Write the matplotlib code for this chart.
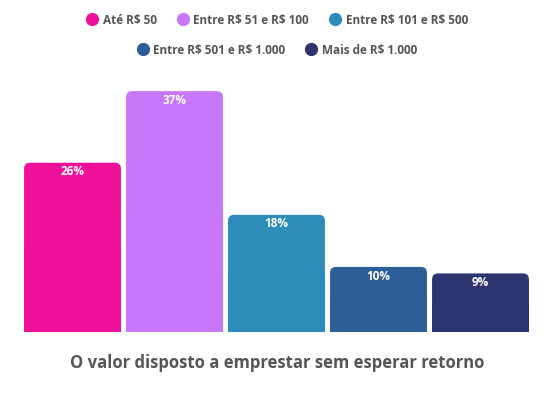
import matplotlib.pyplot as plt
from matplotlib.patches import FancyBboxPatch, Rectangle
from matplotlib.lines import Line2D

plt.rcParams['font.family'] = ['Open Sans', 'DejaVu Sans']
plt.rcParams['text.parse_math'] = False

# data
categories = ['Até R$ 50', 'Entre R$ 51 e R$ 100', 'Entre R$ 101 e R$ 500',
              'Entre R$ 501 e R$ 1.000', 'Mais de R$ 1.000']
values = [26, 37, 18, 10, 9]
colors = ['#EF1199', '#C777F8', '#2D8CBA', '#2D5E98', '#2E346F']
title = 'O valor disposto a emprestar sem esperar retorno'

fig = plt.figure(figsize=(5.54, 3.96), dpi=100)
ax = fig.add_axes([21.5 / 554, 1 - 332 / 396, 510 / 554, 260.4 / 396])
ax.set_xlim(-0.5, 4.5)
ax.set_ylim(0, 40)
ax.axis('off')

bars = ax.bar(range(len(values)), values, width=0.95, color=colors)

# rounded top corners: swap each bar for a rounded box + square base
px_x = 510 / 5.0      # pixels per x unit
px_y = 260.4 / 40.0   # pixels per y unit
r = 6 / px_x
aspect = px_x / px_y
for b, c in zip(bars, colors):
    x0, w, h = b.get_x(), b.get_width(), b.get_height()
    b.set_visible(False)
    ax.add_patch(FancyBboxPatch((x0 + r, r * aspect), w - 2 * r, h - 2 * r * aspect,
                                boxstyle=f'round,pad={r}', mutation_aspect=aspect,
                                fc=c, ec='none'))
    ax.add_patch(Rectangle((x0, 0), w, h / 2, fc=c, ec='none'))
    ax.text(x0 + w / 2, h - 1.4, f'{h:.0f}%', ha='center', va='center',
            color='white', fontsize=8.5, fontweight='bold')

def handles(idx):
    return [Line2D([], [], marker='o', ls='', ms=8.5, color=colors[i]) for i in idx]

leg1 = fig.legend(handles([0, 1, 2]), categories[:3], loc='center',
                  bbox_to_anchor=(0.5, 1 - 20 / 396), ncol=3, frameon=False,
                  handletextpad=0.4, columnspacing=1.7, handlelength=1.0,
                  prop={'size': 8.5, 'weight': 'bold'})
leg2 = fig.legend(handles([3, 4]), categories[3:], loc='center',
                  bbox_to_anchor=(0.5, 1 - 50 / 396), ncol=2, frameon=False,
                  handletextpad=0.4, columnspacing=1.7, handlelength=1.0,
                  prop={'size': 8.5, 'weight': 'bold'})
for leg in (leg1, leg2):
    for t in leg.get_texts():
        t.set_color('#555555')

fig.text(0.5, 1 - 363 / 396, title, ha='center', va='center',
         fontsize=12, fontweight='bold', color='#555555')

fig.savefig('out.png', dpi=100)
